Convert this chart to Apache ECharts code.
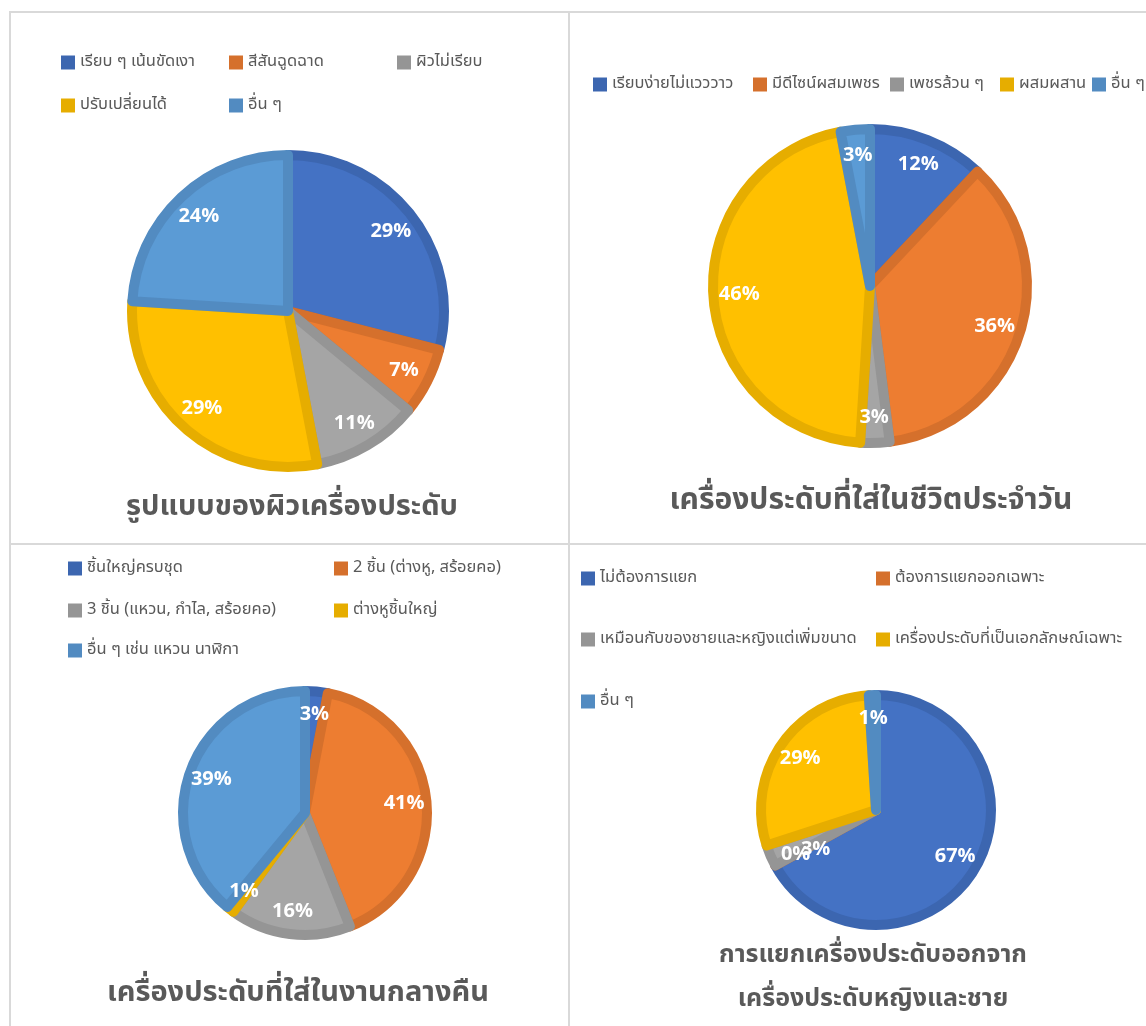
<!DOCTYPE html>
<html>
<head>
<meta charset="utf-8">
<script src="https://cdn.jsdelivr.net/npm/echarts@6/dist/echarts.min.js"></script>
<style>
  html, body { margin: 0; padding: 0; background: #fff; }
  #chart { width: 1146px; height: 1026px; }
</style>
</head>
<body>
<div id="chart"></div>
<script>
// chart 1: surface style
var surfaceNames = ['เรียบ ๆ เน้นขัดเงา', 'สีสันฉูดฉาด', 'ผิวไม่เรียบ', 'ปรับเปลี่ยนได้', 'อื่น ๆ'];
var surfaceValues = [29, 7, 11, 29, 24];
// chart 2: everyday jewellery
var dailyNames = ['เรียบง่ายไม่แวววาว', 'มีดีไซน์ผสมเพชร', 'เพชรล้วน ๆ', 'ผสมผสาน', 'อื่น ๆ'];
var dailyValues = [12, 36, 3, 46, 3];
// chart 3: night event jewellery
var nightNames = ['ชิ้นใหญ่ครบชุด', '2 ชิ้น (ต่างหู, สร้อยคอ)', '3 ชิ้น (แหวน, กำไล, สร้อยคอ)', 'ต่างหูชิ้นใหญ่', 'อื่น ๆ เช่น แหวน นาฬิกา'];
var nightValues = [3, 41, 16, 1, 39];
// chart 4: separating from men's/women's
var splitNames = ['ไม่ต้องการแยก', 'ต้องการแยกออกเฉพาะ', 'เหมือนกับของชายและหญิงแต่เพิ่มขนาด', 'เครื่องประดับที่เป็นเอกลักษณ์เฉพาะ', 'อื่น ๆ'];
var splitValues = [67, 0, 3, 29, 1];

var fills = ['#4472C4', '#ED7D31', '#A5A5A5', '#FFC000', '#5B9BD5'];
var edges = ['#3C66B0', '#D5702C', '#959595', '#E6AD00', '#528BC1'];

var font = '"Noto Sans Thai", "Noto Sans", "DejaVu Sans", sans-serif';
var labelFont = '"Open Sans", "Liberation Sans", sans-serif';

var mychart = echarts.init(document.getElementById('chart'));

var series = [];
var legends = [];

function addPie(names, values, cx, cy, r, labelPos, nudge) {
    series.push({
        type: 'pie',
        center: [cx, cy],
        radius: [0, r - 5],
        startAngle: 90,
        clockwise: true,
        silent: true,
        animation: false,
        label: { show: false },
        labelLine: { show: false },
        data: names.map(function (n, i) {
            return {
                name: n,
                value: values[i],
                itemStyle: { color: fills[i], borderColor: edges[i], borderWidth: 10 }
            };
        })
    });
    // transparent ring only used to place the percentage labels
    series.push({
        type: 'pie',
        center: [cx, cy],
        radius: [r * (2 * labelPos - 1), r],
        startAngle: 90,
        clockwise: true,
        minAngle: 0.5,
        minShowLabelAngle: 0,
        silent: true,
        animation: false,
        itemStyle: { color: 'rgba(0,0,0,0)' },
        labelLayout: { hideOverlap: false },
        label: {
            show: true,
            position: 'inside',
            formatter: '{c}%',
            color: '#fff',
            fontSize: 20,
            fontWeight: 'bold',
            fontFamily: labelFont
        },
        labelLine: { show: false },
        data: values.map(function (v, i) {
            var d = { value: v };
            if (nudge && nudge[i]) d.label = { offset: nudge[i] };
            return d;
        })
    });
}

function addLegend(names, spots) {
    names.forEach(function (n, i) {
        legends.push({
            left: spots[i][0],
            top: spots[i][1] - 7,
            padding: 0,
            itemWidth: 14,
            itemHeight: 14,
            itemGap: 5,
            icon: 'rect',
            selectedMode: false,
            textStyle: { color: '#595959', fontSize: 16.5, lineHeight: 14, fontFamily: font },
            data: [{ name: n, itemStyle: { color: edges[i], borderWidth: 0 } }]
        });
    });
}

addPie(surfaceNames, surfaceValues, 288, 311, 161, 0.79);
addPie(dailyNames, dailyValues, 870, 286, 162, 0.79);
addPie(nightNames, nightValues, 305, 813, 127, 0.76);
addPie(splitNames, splitValues, 876, 810, 120, 0.74, { 2: [24, 3] });

addLegend(surfaceNames, [[61, 61], [229, 61], [397, 61], [61, 104], [229, 104]]);
addLegend(dailyNames, [[593, 83], [753, 83], [890, 83], [1000, 83], [1092, 83]]);
addLegend(nightNames, [[68, 567], [334, 567], [68, 609], [334, 609], [68, 649]]);
addLegend(splitNames, [[581, 577], [876, 577], [581, 638], [876, 638], [581, 700]]);

function titleText(text, x, y, size) {
    return {
        type: 'text',
        silent: true,
        style: {
            text: text,
            x: x,
            y: y,
            align: 'center',
            verticalAlign: 'middle',
            fill: '#595959',
            font: 'bold ' + size + 'px ' + font
        }
    };
}

function line(x1, y1, x2, y2) {
    return {
        type: 'line',
        silent: true,
        shape: { x1: x1, y1: y1, x2: x2, y2: y2 },
        style: { stroke: '#D9D9D9', lineWidth: 2 }
    };
}

var option = {
    animation: false,
    legend: legends,
    series: series,
    graphic: [
        line(9, 12, 1146, 12),
        line(10, 12, 10, 1026),
        line(569, 12, 569, 1026),
        line(10, 544, 1146, 544),
        titleText('รูปแบบของผิวเครื่องประดับ', 292, 509, 29),
        titleText('เครื่องประดับที่ใส่ในชีวิตประจำวัน', 871, 503, 30),
        titleText('เครื่องประดับที่ใส่ในงานกลางคืน', 298, 995, 29),
        titleText('การแยกเครื่องประดับออกจาก', 873, 957, 25),
        titleText('เครื่องประดับหญิงและชาย', 873, 1001, 25)
    ]
};
mychart.setOption(option);
</script>
</body>
</html>
